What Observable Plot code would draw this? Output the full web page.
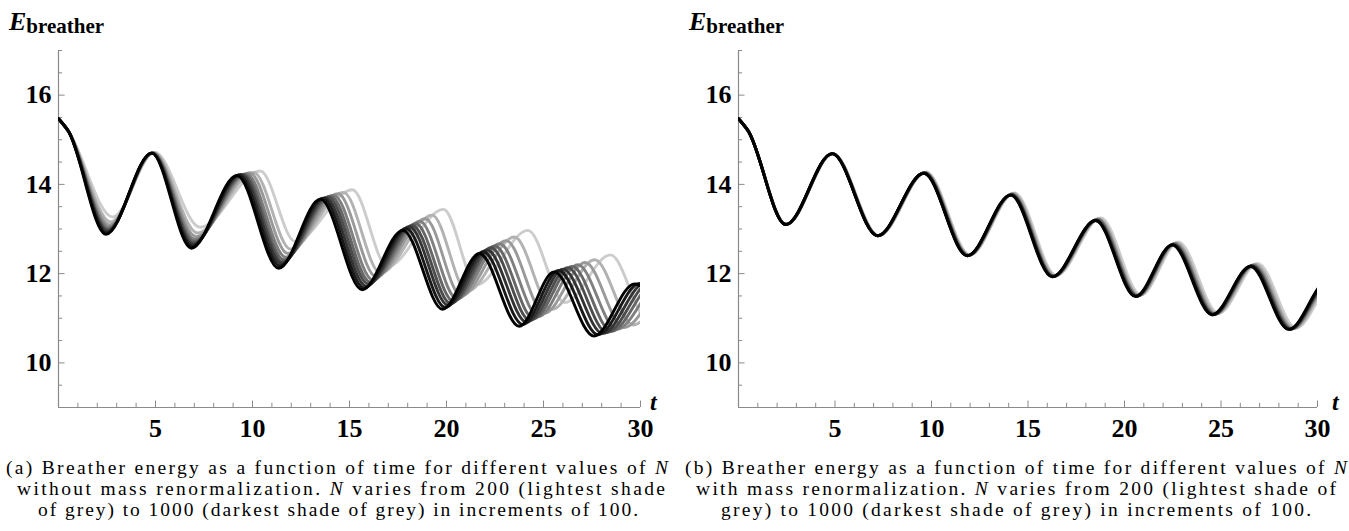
<!DOCTYPE html>
<html><head><meta charset="utf-8">
<script src="https://cdn.jsdelivr.net/npm/d3@7"></script>
<script src="https://cdn.jsdelivr.net/npm/@observablehq/plot@0.6"></script>
<style>
html,body{margin:0;padding:0;background:#fff;}
body{width:1349px;height:531px;position:relative;overflow:hidden;}
.panel{position:absolute;top:0;}
#overlay{position:absolute;left:0;top:0;pointer-events:none;}
.panel svg text{font-family:"Liberation Serif",serif !important;font-size:26px !important;font-weight:bold !important;}
</style></head>
<body>
<div id="left" class="panel" style="left:0px"></div>
<div id="right" class="panel" style="left:680px"></div>
<svg id="overlay" width="1349" height="531" font-family="Liberation Serif">
  <text x="9" y="30" font-size="26" font-weight="bold" font-style="italic">E<tspan font-size="21" font-style="normal" dy="3">breather</tspan></text>
  <text x="689" y="30" font-size="26" font-weight="bold" font-style="italic">E<tspan font-size="21" font-style="normal" dy="3">breather</tspan></text>
  <text x="650" y="410" font-size="24" font-weight="bold" font-style="italic">t</text>
  <text x="1332" y="410" font-size="24" font-weight="bold" font-style="italic">t</text>
  <g font-size="19.5">
    <text x="337" y="474" text-anchor="middle" textLength="662" lengthAdjust="spacing">(a) Breather energy as a function of time for different values of <tspan font-style="italic">N</tspan></text>
    <text x="341" y="495" text-anchor="middle" textLength="648" lengthAdjust="spacing">without mass renormalization. <tspan font-style="italic">N</tspan> varies from 200 (lightest shade</text>
    <text x="338" y="516" text-anchor="middle" textLength="600" lengthAdjust="spacing">of grey) to 1000 (darkest shade of grey) in increments of 100.</text>
    <text x="1016" y="474" text-anchor="middle" textLength="662" lengthAdjust="spacing">(b) Breather energy as a function of time for different values of <tspan font-style="italic">N</tspan></text>
    <text x="1016" y="495" text-anchor="middle" textLength="640" lengthAdjust="spacing">with mass renormalization. <tspan font-style="italic">N</tspan> varies from 200 (lightest shade of</text>
    <text x="1016" y="516" text-anchor="middle" textLength="590" lengthAdjust="spacing">grey) to 1000 (darkest shade of grey) in increments of 100.</text>
  </g>
</svg>
<script>
// ---- data ----
const nValues = [200, 300, 400, 500, 600, 700, 800, 900, 1000];
const shades = ["#cccccc", "#b2b2b2", "#999999", "#7f7f7f", "#666666", "#4c4c4c", "#333333", "#191919", "#000000"];
const xTicks = [5, 10, 15, 20, 25, 30];
const xMinor = [1, 2, 3, 4, 6, 7, 8, 9, 11, 12, 13, 14, 16, 17, 18, 19, 21, 22, 23, 24, 26, 27, 28, 29];
const yTicks = [10, 12, 14, 16];
const yMinor = [9.5, 10.5, 11, 11.5, 12.5, 13, 13.5, 14.5, 15, 15.5, 16.5, 17];

// (a) without mass renormalization: [t, E] turning points per N
const left200 = [[0,15.47],[0.5,15.2],[2.8,13.27],[4.95,14.72],[7.3,13.04],[10.4,14.3],[12.2,12.72],[15.15,13.88],[16.95,12.16],[19.85,13.44],[21.55,11.75],[24.2,12.97],[26.1,11.35],[28.45,12.42],[30.4,10.95],[33.0,11.9],[35.0,10.7]];
const left300 = [[0,15.47],[0.5,15.2],[2.70,13.16],[4.91,14.71],[7.17,12.91],[10.06,14.27],[11.96,12.55],[14.69,13.82],[16.59,12.01],[19.26,13.31],[21.06,11.60],[23.5,12.82],[25.44,11.20],[27.64,12.31],[29.62,10.85],[32.08,11.86],[34.08,10.63]];
const left400 = [[0,15.47],[0.5,15.2],[2.64,13.09],[4.88,14.71],[7.10,12.83],[9.86,14.26],[11.82,12.45],[14.41,13.79],[16.37,11.93],[18.91,13.23],[20.76,11.50],[23.08,12.74],[25.04,11.11],[27.15,12.25],[29.14,10.79],[31.52,11.84],[33.52,10.59]];
const left500 = [[0,15.47],[0.5,15.2],[2.60,13.04],[4.86,14.71],[7.04,12.77],[9.70,14.24],[11.71,12.37],[14.19,13.76],[16.20,11.86],[18.63,13.17],[20.54,11.43],[22.75,12.67],[24.74,11.04],[26.77,12.20],[28.78,10.75],[31.09,11.82],[33.09,10.56]];
const left600 = [[0,15.47],[0.5,15.2],[2.56,13.00],[4.85,14.71],[6.99,12.72],[9.58,14.23],[11.62,12.31],[14.03,13.74],[16.07,11.81],[18.42,13.12],[20.36,11.38],[22.5,12.62],[24.50,10.99],[26.48,12.16],[28.50,10.71],[30.76,11.81],[32.76,10.53]];
const left700 = [[0,15.47],[0.5,15.2],[2.53,12.97],[4.84,14.70],[6.96,12.68],[9.49,14.22],[11.55,12.26],[13.90,13.72],[15.96,11.77],[18.25,13.08],[20.22,11.33],[22.3,12.58],[24.31,10.95],[26.25,12.13],[28.27,10.68],[30.49,11.80],[32.49,10.51]];
const left800 = [[0,15.47],[0.5,15.2],[2.51,12.94],[4.82,14.70],[6.92,12.65],[9.39,14.22],[11.49,12.22],[13.76,13.70],[15.86,11.72],[18.09,13.05],[20.08,11.29],[22.1,12.53],[24.13,10.91],[26.01,12.10],[28.05,10.66],[30.23,11.79],[32.23,10.49]];
const left900 = [[0,15.47],[0.5,15.2],[2.48,12.91],[4.81,14.70],[6.89,12.61],[9.30,14.21],[11.42,12.17],[13.63,13.69],[15.75,11.68],[17.92,13.01],[19.94,11.24],[21.9,12.49],[23.94,10.86],[25.78,12.07],[27.82,10.63],[29.96,11.78],[31.96,10.47]];
const left1000 = [[0,15.47],[0.5,15.2],[2.45,12.88],[4.8,14.70],[6.85,12.57],[9.2,14.2],[11.35,12.12],[13.5,13.67],[15.65,11.64],[17.75,12.97],[19.8,11.2],[21.7,12.45],[23.75,10.82],[25.55,12.04],[27.6,10.6],[29.7,11.77],[31.7,10.45]];

// (b) with mass renormalization
const right200 = [[0,15.47],[0.5,15.2],[2.48,13.1],[4.9,14.69],[7.28,12.85],[9.72,14.28],[12.0,12.42],[14.3,13.81],[16.47,11.96],[18.77,13.25],[20.85,11.52],[22.79,12.71],[24.87,11.11],[26.9,12.23],[28.89,10.78],[30.97,11.9],[32.95,10.53]];
const right300 = [[0,15.47],[0.5,15.2],[2.47,13.1],[4.89,14.69],[7.26,12.85],[9.69,14.27],[11.96,12.41],[14.24,13.80],[16.41,11.95],[18.69,13.23],[20.77,11.51],[22.70,12.69],[24.78,11.10],[26.80,12.21],[28.78,10.77],[30.85,11.89],[32.82,10.52]];
const right400 = [[0,15.47],[0.5,15.2],[2.47,13.1],[4.88,14.69],[7.24,12.85],[9.67,14.27],[11.93,12.41],[14.21,13.79],[16.37,11.95],[18.65,13.22],[20.72,11.51],[22.65,12.68],[24.72,11.10],[26.73,12.20],[28.72,10.77],[30.78,11.88],[32.75,10.52]];
const right500 = [[0,15.47],[0.5,15.2],[2.46,13.1],[4.87,14.69],[7.23,12.85],[9.65,14.26],[11.91,12.41],[14.18,13.78],[16.34,11.94],[18.61,13.22],[20.69,11.50],[22.60,12.67],[24.68,11.09],[26.69,12.19],[28.67,10.76],[30.73,11.87],[32.69,10.51]];
const right600 = [[0,15.47],[0.5,15.2],[2.46,13.1],[4.87,14.69],[7.23,12.85],[9.64,14.26],[11.90,12.41],[14.16,13.78],[16.32,11.94],[18.59,13.21],[20.66,11.50],[22.57,12.66],[24.65,11.09],[26.65,12.18],[28.63,10.76],[30.68,11.87],[32.64,10.51]];
const right700 = [[0,15.47],[0.5,15.2],[2.46,13.1],[4.86,14.69],[7.22,12.85],[9.63,14.26],[11.89,12.40],[14.15,13.77],[16.30,11.94],[18.56,13.20],[20.64,11.50],[22.55,12.66],[24.62,11.09],[26.62,12.18],[28.60,10.76],[30.65,11.86],[32.61,10.51]];
const right800 = [[0,15.47],[0.5,15.2],[2.45,13.1],[4.86,14.69],[7.21,12.85],[9.62,14.25],[11.87,12.40],[14.13,13.77],[16.29,11.93],[18.54,13.20],[20.61,11.49],[22.52,12.65],[24.59,11.08],[26.59,12.17],[28.57,10.75],[30.62,11.86],[32.57,10.50]];
const right900 = [[0,15.47],[0.5,15.2],[2.45,13.1],[4.85,14.69],[7.21,12.85],[9.61,14.25],[11.86,12.40],[14.12,13.76],[16.27,11.93],[18.52,13.19],[20.59,11.49],[22.50,12.65],[24.57,11.08],[26.56,12.17],[28.54,10.75],[30.58,11.85],[32.54,10.50]];
const right1000 = [[0,15.47],[0.5,15.2],[2.45,13.1],[4.85,14.69],[7.2,12.85],[9.6,14.25],[11.85,12.4],[14.1,13.76],[16.25,11.93],[18.5,13.19],[20.57,11.49],[22.47,12.64],[24.54,11.08],[26.53,12.16],[28.51,10.75],[30.55,11.85],[32.5,10.5]];

const leftSeries = [left200, left300, left400, left500, left600, left700, left800, left900, left1000];
const rightSeries = [right200, right300, right400, right500, right600, right700, right800, right900, right1000];

function panel(series, width, marginRight) {
  const rows = [];
  series.forEach((pts, i) => pts.forEach(([t, e]) => rows.push({t, e, n: nValues[i]})));
  const axisColor = "#8a8a8a";
  const font = {fontFamily: "Liberation Serif", fontSize: 26, fontWeight: "bold", fill: "#000"};
  return Plot.plot({
    width, height: 450,
    marginLeft: 58, marginRight, marginTop: 50, marginBottom: 43,
    x: {domain: [0, 30]},
    y: {domain: [9, 17]},
    color: {type: "ordinal", domain: nValues, range: shades},
    style: {background: "transparent", overflow: "visible", fontFamily: "Liberation Serif", fontSize: "26px", fontWeight: "bold"},
    marks: [
      Plot.ruleX([0], {y1: 9, y2: 17, stroke: axisColor, strokeWidth: 1.2}),
      Plot.ruleY([9], {x1: 0, x2: 30, stroke: axisColor, strokeWidth: 1.2}),
      Plot.ruleY(yTicks, {y: d => d, x1: 0, x2: 0.34, stroke: axisColor}),
      Plot.ruleY(yMinor, {y: d => d, x1: 0, x2: 0.21, stroke: axisColor}),
      Plot.ruleX(xTicks, {x: d => d, y1: 9, y2: 9.145, stroke: axisColor}),
      Plot.ruleX(xMinor, {x: d => d, y1: 9, y2: 9.095, stroke: axisColor}),
      Plot.axisX(xTicks, {tickSize: 0, tickPadding: 11, label: null, ...font}),
      Plot.axisY(yTicks, {tickSize: 0, tickPadding: 7, label: null, ...font}),
      Plot.line(rows, {x: "t", y: "e", z: "n", stroke: "n", strokeWidth: 2.9, curve: "monotone-x", clip: true})
    ]
  });
}

document.getElementById("left").appendChild(panel(leftSeries, 675, 35));
document.getElementById("right").appendChild(panel(rightSeries, 669, 32));
</script>
</body></html>
